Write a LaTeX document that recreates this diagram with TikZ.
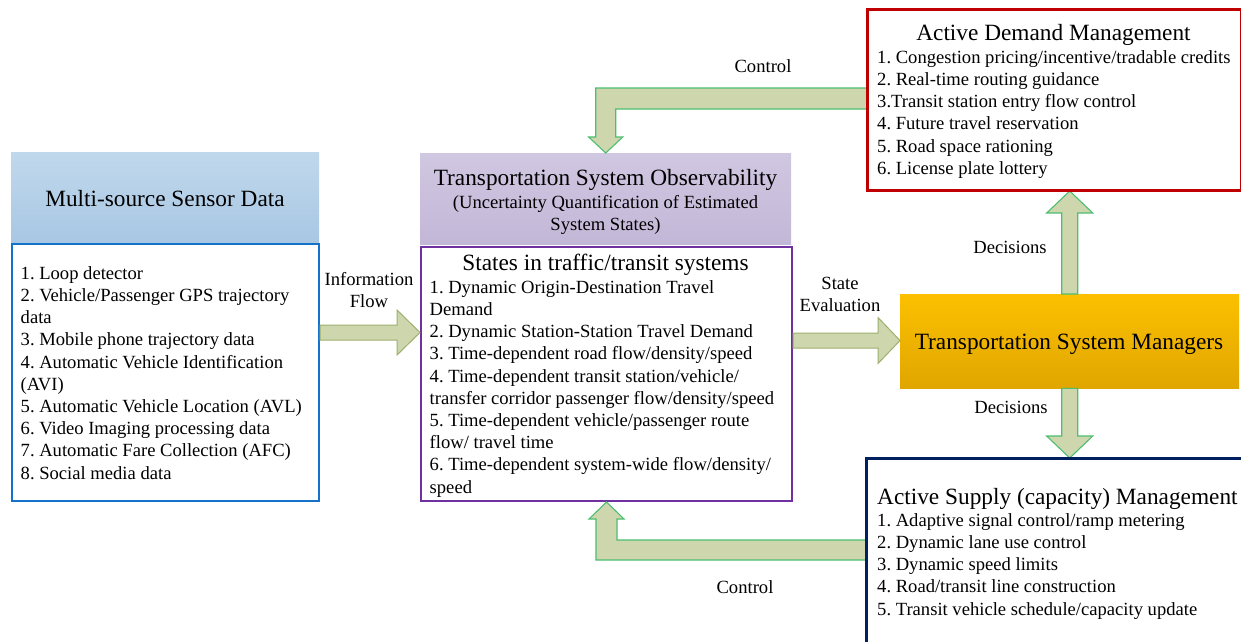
\documentclass[tikz,border=0pt]{standalone}
\usepackage{fontspec}
\setmainfont{Liberation Serif}
\usetikzlibrary{calc}

\definecolor{srcTop}{RGB}{192,216,236}
\definecolor{srcBot}{RGB}{168,199,227}
\definecolor{obsTop}{RGB}{208,199,225}
\definecolor{obsBot}{RGB}{195,183,215}
\definecolor{tsmTop}{RGB}{252,192,0}
\definecolor{tsmBot}{RGB}{224,166,0}
\definecolor{srcLine}{RGB}{20,115,200}
\definecolor{stLine}{RGB}{112,48,160}
\definecolor{admLine}{RGB}{192,0,0}
\definecolor{asmLine}{RGB}{0,32,96}
\definecolor{arrFill}{RGB}{206,214,174}
\definecolor{arrGreen}{RGB}{76,190,112}
\definecolor{arrOlive}{RGB}{158,176,110}

\newcommand\bodysize{\fontsize{18.6}{22.2}\selectfont}
\newcommand\headsize{\fontsize{23.3}{27}\selectfont}

% block arrow pointing right: style, tail, tip, shaft half-width, head half-width, head length
\newcommand\hblock[6]{\draw[#1] let \p1=(#2), \p2=(#3) in
  (\x1,\y1+#4pt) -- (\x2-#6pt,\y2+#4pt) -- (\x2-#6pt,\y2+#5pt) -- (\x2,\y2)
  -- (\x2-#6pt,\y2-#5pt) -- (\x2-#6pt,\y2-#4pt) -- (\x1,\y1-#4pt) -- cycle;}
% block arrow pointing up
\newcommand\upblock[6]{\draw[#1] let \p1=(#2), \p2=(#3) in
  (\x1-#4pt,\y1) -- (\x2-#4pt,\y2-#6pt) -- (\x2-#5pt,\y2-#6pt) -- (\x2,\y2)
  -- (\x2+#5pt,\y2-#6pt) -- (\x2+#4pt,\y2-#6pt) -- (\x1+#4pt,\y1) -- cycle;}
% block arrow pointing down
\newcommand\downblock[6]{\draw[#1] let \p1=(#2), \p2=(#3) in
  (\x1-#4pt,\y1) -- (\x2-#4pt,\y2+#6pt) -- (\x2-#5pt,\y2+#6pt) -- (\x2,\y2)
  -- (\x2+#5pt,\y2+#6pt) -- (\x2+#4pt,\y2+#6pt) -- (\x1+#4pt,\y1) -- cycle;}

\tikzset{
  panel/.style={rectangle, inner sep=0pt, anchor=north west, line width=2pt, fill=white},
  header/.style={rectangle, inner sep=0pt, anchor=north west, draw=none},
  listtext/.style={anchor=north west, inner sep=0pt, align=left, font=\bodysize\frenchspacing},
  lbl/.style={anchor=north, inner sep=0pt, align=center, font=\bodysize},
  lblbase/.style={anchor=base, inner sep=0pt, font=\bodysize},
  ttl/.style={anchor=base, inner sep=0pt, font=\headsize},
  blkG/.style={fill=arrFill, draw=arrGreen, line width=1.1pt, line join=miter},
  blkO/.style={fill=arrFill, draw=arrOlive, line width=1pt, line join=miter},
}

\begin{document}
\frenchspacing
\begin{tikzpicture}[x=1pt, y=-1pt]
\useasboundingbox (0,0) rectangle (1241,641);
\clip (0,0) rectangle (1241,641);
\fill[white] (0,0) rectangle (1241,641);

% ---------- coordinates of the box corners ----------
\coordinate (srcNW) at (11,152);
\coordinate (obsNW) at (420,153);

% ---------- named boxes ----------
\path node[header, top color=srcTop, bottom color=srcBot,
           minimum width=308pt, minimum height=91pt] (src) at (srcNW) {};
\path node[panel, draw=srcLine, minimum width=307pt, minimum height=257pt] (srcbox) at (11,243) {};
\path node[header, top color=obsTop, bottom color=obsBot,
           minimum width=371pt, minimum height=91pt] (obs) at (obsNW) {};
\path node[panel, draw=stLine, minimum width=371pt, minimum height=254pt] (stbox) at (420,246) {};
\path node[panel, draw=admLine, minimum width=373pt, minimum height=180pt] (adm) at (867,9) {};
\path node[header, top color=tsmTop, bottom color=tsmBot,
           minimum width=339pt, minimum height=94pt] (tsm) at (900,294) {};
\path node[panel, draw=asmLine, minimum width=420pt, minimum height=230pt] (asm) at (866,458) {};

% ---------- arrow end points ----------
\coordinate (infoS)  at (srcbox.east |- 0,332.5);
\coordinate (infoE)  at (stbox.west |- 0,332.5);
\coordinate (stateS) at (stbox.east |- 0,340.5);
\coordinate (stateE) at (tsm.west |- 0,340.5);
\coordinate (decUpS) at (tsm.north);
\coordinate (decUpE) at (adm.south -| tsm.north);
\coordinate (decDnS) at (tsm.south);
\coordinate (decDnE) at (asm.north -| tsm.south);
\coordinate (ctlTopS) at (adm.west |- 0,98.5);
\coordinate (ctlTopE) at (obs.north);
\coordinate (ctlBotS) at (asm.west |- 0,550);
\coordinate (ctlBotE) at (stbox.south);

% ---------- block arrows ----------
\hblock{blkO}{infoS}{infoE}{7.5}{22.5}{23}
\hblock{blkO}{stateS}{stateE}{7.5}{23}{22}
\upblock{blkG}{decUpS}{decUpE}{8}{23}{22}
\downblock{blkG}{decDnS}{decDnE}{8}{23}{22}

% control, from the demand box back to the observability header
\draw[blkG] let \p1=(ctlTopS), \p2=(ctlTopE) in
  (\x1,\y1+10.5pt) -- (\x2-10pt,\y1+10.5pt) -- (\x2-10pt,\y2+16pt)
  -- (\x2-17pt,\y2+16pt) -- (\x2,\y2) -- (\x2+17pt,\y2+16pt)
  -- (\x2+10pt,\y2+16pt) -- (\x2+10pt,\y1-10.5pt) -- (\x1,\y1-10.5pt) -- cycle;
% control, from the supply box back to the state box
\draw[blkG] let \p1=(ctlBotS), \p2=(ctlBotE) in
  (\x1,\y1+10pt) -- (\x2+10.5pt,\y1+10pt) -- (\x2+10.5pt,\y2-17pt)
  -- (\x2+17.5pt,\y2-17pt) -- (\x2,\y2) -- (\x2-17.5pt,\y2-17pt)
  -- (\x2-10.5pt,\y2-17pt) -- (\x2-10.5pt,\y1-10pt) -- (\x1,\y1-10pt) -- cycle;

% redraw the box borders over the arrow ends
\draw[line width=2pt, admLine] (adm.north west) rectangle (adm.south east);
\draw[line width=2pt, asmLine] (asm.north west) rectangle (asm.south east);

% ---------- texts ----------
\node[ttl] (srcTitle) at (165,206) {Multi-source Sensor Data};
\node[listtext] (srcList) at (20.5,263.5) {\strut 1. Loop detector\\
2. Vehicle/Passenger GPS trajectory\\
data\\
3. Mobile phone trajectory data\\
4. Automatic Vehicle Identification\\
(AVI)\\
5. Automatic Vehicle Location (AVL)\\
6. Video Imaging processing data\\
7. Automatic Fare Collection (AFC)\\
8. Social media data};

\node[ttl] (obsTitle) at (605.5,185) {Transportation System Observability};
\node[lbl] (obsSub) at (605.5,192.5) {\strut(Uncertainty Quantification of Estimated\\System States)};

\node[ttl] (stTitle) at (605.5,270) {States in traffic/transit systems};
\node[listtext] (stList) at (429.5,277.5) {\strut 1. Dynamic Origin-Destination Travel\\
Demand\\
2. Dynamic Station-Station Travel Demand\\
3. Time-dependent road flow/density/speed\\
4. Time-dependent transit station/vehicle/\\
transfer corridor passenger flow/density/speed\\
5. Time-dependent vehicle/passenger route\\
flow/ travel time\\
6. Time-dependent system-wide flow/density/\\
speed};

\node[ttl] (admTitle) at (1053.5,40) {Active Demand Management};
\node[listtext] (admList) at (877,47.5) {\strut 1. Congestion pricing/incentive/tradable credits\\
2. Real-time routing guidance\\
3.Transit station entry flow control\\
4. Future travel reservation\\
5. Road space rationing\\
6. License plate lottery};

\node[ttl] (tsmTitle) at (1069,349) {Transportation System Managers};

\node[ttl, anchor=base west] (asmTitle) at (877,504) {Active Supply (capacity) Management};
\node[listtext] (asmList) at (877,510.5) {\strut 1. Adaptive signal control/ramp metering\\
2. Dynamic lane use control\\
3. Dynamic speed limits\\
4. Road/transit line construction\\
5. Transit vehicle schedule/capacity update};

% connector labels
\node[lbl] (infoLbl) at (369,269.5) {\strut Information\\Flow};
\node[lbl] (stateLbl) at (840,273.5) {\strut State\\Evaluation};
\node[lblbase] (ctlTopLbl) at (763,72) {Control};
\node[lblbase] (ctlBotLbl) at (745,593) {Control};
\node[lblbase] (decUpLbl) at (1010,253) {Decisions};
\node[lblbase] (decDnLbl) at (1011,413) {Decisions};
\end{tikzpicture}
\end{document}
